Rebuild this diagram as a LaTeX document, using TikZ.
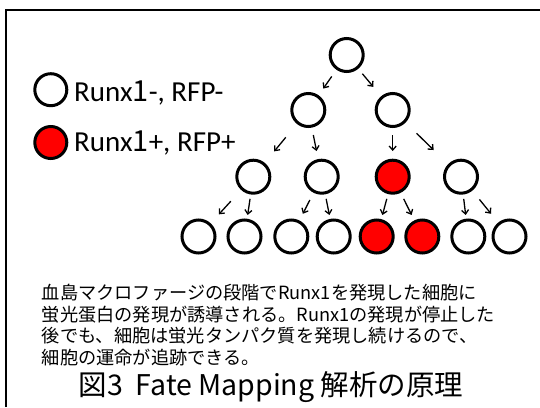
\documentclass[tikz,border=0pt]{standalone}
\usepackage{fontspec}
\setmainfont{Carlito}
\newfontfamily\jpfont{Noto Sans CJK JP}
\usetikzlibrary{arrows.meta,calc}
\begin{document}
\begin{tikzpicture}[x=1pt,y=-1pt,
  cell/.style={circle,draw,line width=3pt,minimum size=33pt,inner sep=0pt},
  poscell/.style={cell,fill=red},
  legcell/.style={circle,draw,line width=3pt,minimum size=32pt,inner sep=0pt},
  arr/.style={-{Straight Barb[length=4pt,width=7pt]},line width=1.3pt},
  legtext/.style={anchor=base west,inner sep=0pt,font=\fontsize{29}{32}\selectfont},
  bodytext/.style={anchor=base west,inner sep=0pt,font=\jpfont\fontsize{18.2}{22}\selectfont},
  titletext/.style={anchor=base,inner sep=0pt,font=\jpfont\fontsize{28.5}{32}\selectfont}]
\useasboundingbox (0,0) rectangle (540,407);
\fill[white] (0,0) rectangle (540,407);
\draw[line width=2pt] (6,407) -- (6,10) -- (540,10);

% legend
\node[legcell] (lw) at (50.8,89.7) {};
\node[legcell,fill=red] (lr) at (50.8,142.5) {};
\node[legtext] (lwt) at (74,101) {Runx{\jpfont 1}-, RFP-};
\node[legtext] (lrt) at (74,151) {Runx{\jpfont 1}+, RFP+};

% tree
\node[cell] (t) at (346.7,55) {};
\node[cell] (a) at (308.3,110) {};
\node[cell] (b) at (392.7,110) {};
\node[cell] (c1) at (253.3,176.7) {};
\node[cell] (c2) at (321.7,176.7) {};
\node[poscell] (c3) at (392.7,176.7) {};
\node[cell] (c4) at (461,176.7) {};
\node[cell] (d1) at (198.5,236.5) {};
\node[cell] (d2) at (244.5,236.5) {};
\node[cell] (d3) at (291.3,236.5) {};
\node[cell] (d4) at (333.7,236.5) {};
\node[poscell] (d5) at (376.7,236.5) {};
\node[poscell] (d6) at (422.3,236.5) {};
\node[cell] (d7) at (468.3,236.5) {};
\node[cell] (d8) at (509.5,236.5) {};

\draw[arr] ($(t)!0.39!(a)$) -- ($(t)!0.61!(a)$);
\draw[arr] ($(t)!0.34!(b)$) -- ($(t)!0.58!(b)$);
\draw[arr] ($(a)!0.41!(c1)$) -- ($(a)!0.62!(c1)$);
\draw[arr] ($(a)!0.375!(c2)$) -- ($(a)!0.615!(c2)$);
\draw[arr] ($(b)!0.375!(c3)$) -- ($(b)!0.615!(c3)$);
\draw[arr] ($(b)!0.35!(c4)$) -- ($(b)!0.6!(c4)$);
\draw[arr] ($(c1)!0.41!(d1)$) -- ($(c1)!0.63!(d1)$);
\draw[arr] ($(c1)!0.37!(d2)$) -- ($(c1)!0.64!(d2)$);
\draw[arr] ($(c2)!0.39!(d3)$) -- ($(c2)!0.62!(d3)$);
\draw[arr] ($(c2)!0.37!(d4)$) -- ($(c2)!0.64!(d4)$);
\draw[arr] ($(c3)!0.37!(d5)$) -- ($(c3)!0.64!(d5)$);
\draw[arr] ($(c3)!0.37!(d6)$) -- ($(c3)!0.64!(d6)$);
\draw[arr] ($(c4)!0.37!(d7)$) -- ($(c4)!0.64!(d7)$);
\draw[arr] ($(c4)!0.38!(d8)$) -- ($(c4)!0.62!(d8)$);

% text
\node[bodytext] (l1) at (41.7,299.5) {血島マクロファージの段階でRunx1を発現した細胞に};
\node[bodytext] (l2) at (41.7,321.2) {蛍光蛋白の発現が誘導される。Runx1の発現が停止した};
\node[bodytext] (l3) at (41.7,342.9) {後でも、細胞は蛍光タンパク質を発現し続けるので、};
\node[bodytext] (l4) at (41.7,364.6) {細胞の運命が追跡できる。};
\node[titletext] (ttl) at (271,395) {図3\ \ Fate Mapping 解析の原理};
\end{tikzpicture}
\end{document}
